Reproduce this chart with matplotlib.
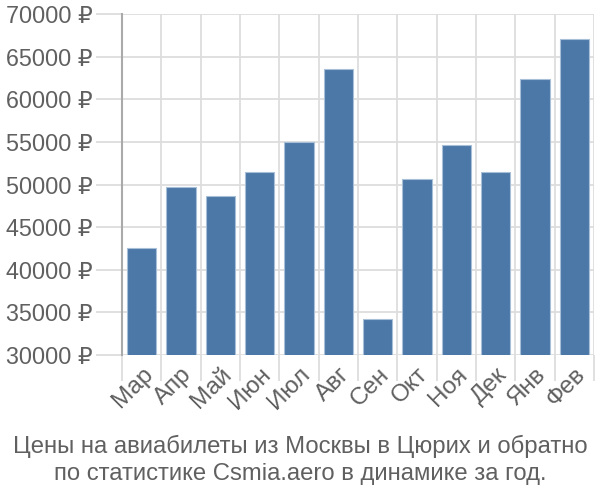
import matplotlib.pyplot as plt
import numpy as np

months = ["Мар", "Апр", "Май", "Июн", "Июл", "Авг", "Сен", "Окт", "Ноя", "Дек", "Янв", "Фев"]
prices = [42600, 49750, 48600, 51450, 54950, 63500, 34200, 50600, 54600, 51500, 62350, 67050]
yticks = [30000, 35000, 40000, 45000, 50000, 55000, 60000, 65000, 70000]

plt.rcParams["font.family"] = ["Liberation Sans", "DejaVu Sans"]

fig = plt.figure(figsize=(6, 5), dpi=100)
ax = fig.add_axes([0.2033, 0.29, 0.7867, 0.682])

x = np.arange(len(months))
ax.bar(x, prices, width=0.74, color="#4c78a8", edgecolor="#a8bfd8", linewidth=0.8, zorder=3)

ax.set_xlim(-0.5, len(months) - 0.5)
ax.set_ylim(30000, 70000)

# сетка по границам категорий
ax.set_xticks(np.arange(len(months) + 1) - 0.5)
ax.set_xticklabels([])
ax.set_xticks(x, minor=True)
ax.set_xticklabels(months, minor=True, rotation=45, ha="right", rotation_mode="anchor",
                   fontsize=17.5, color="#606060")
ax.tick_params(axis="x", which="minor", length=0, pad=6)
ax.tick_params(axis="x", which="major", length=19, color="#dddddd", width=1.3)
ax.xaxis.get_major_ticks()[0].tick1line.set_color("#aaaaaa")

ax.set_yticks(yticks)
ax.set_yticklabels(["%d ₽" % v for v in yticks], fontsize=16.8, color="#606060")
ax.tick_params(axis="y", length=19, color="#dddddd", width=1.3, pad=2)

ax.grid(True, which="major", color="#dddddd", linewidth=1.3, zorder=0)
for side in ["top", "right", "bottom"]:
    ax.spines[side].set_visible(False)
ax.spines["left"].set_color("#aaaaaa")
ax.spines["left"].set_linewidth(1.5)

fig.text(0.5, 0.08, "Цены на авиабилеты из Москвы в Цюрих и обратно\nпо статистике Csmia.aero в динамике за год.",
         ha="center", va="center", fontsize=17.2, color="#606060", linespacing=1.3)

fig.savefig("out.png")
